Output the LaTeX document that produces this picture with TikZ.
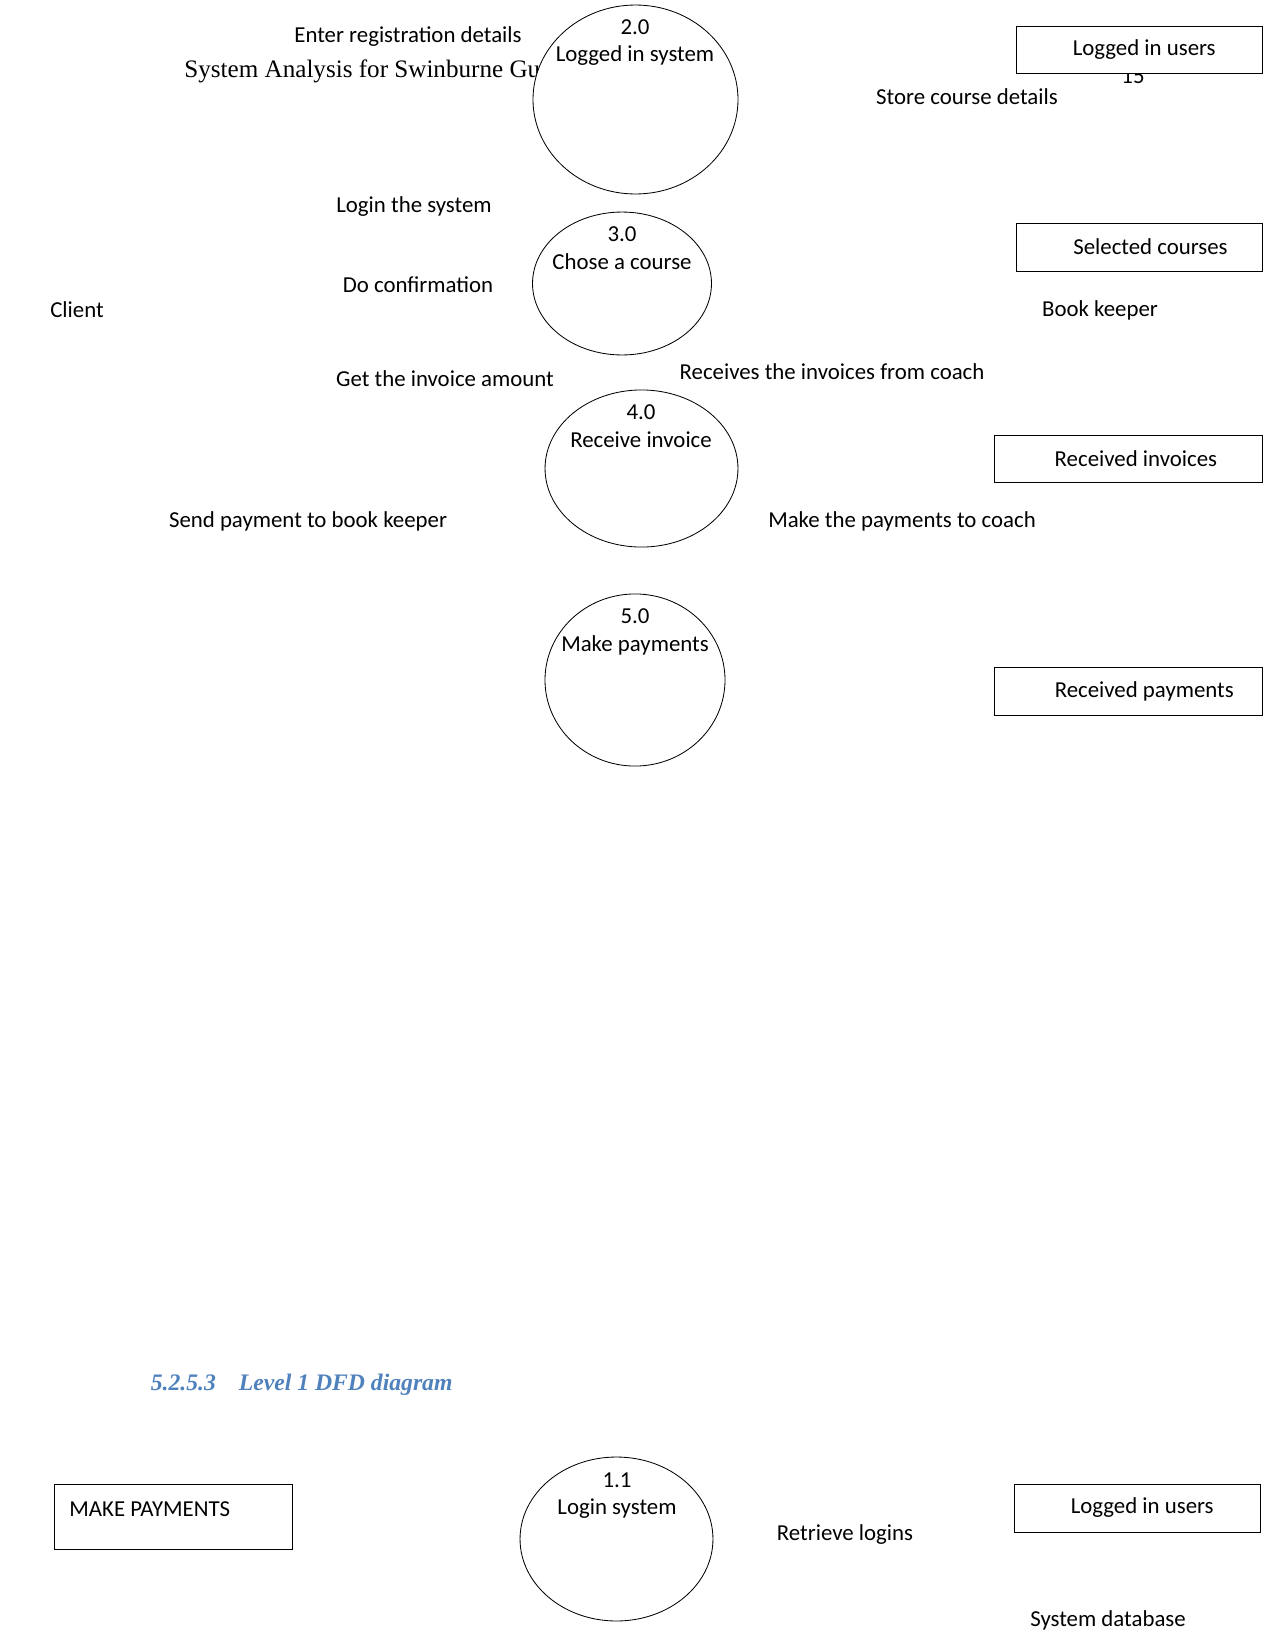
\documentclass[tikz,border=0pt]{standalone}
\usepackage{fontspec}
\setmainfont{Carlito}
\newfontfamily\docserif{Liberation Serif}
\usetikzlibrary{shapes.geometric}
\definecolor{headblue}{HTML}{4F81BD}

\begin{document}
\begin{tikzpicture}[x=0.48bp,y=-0.48bp,
  every node/.style={font=\fontsize{11}{13}\selectfont},
  proc/.style={draw,ellipse,fill=white,inner sep=0pt},
  store/.style={draw,rectangle,fill=white,inner sep=0pt},
  flow/.style={inner sep=0pt}]
  \useasboundingbox (0,0) rectangle (1275,1651);

  % text lying under the shapes
  \node[anchor=west,inner sep=0pt,font=\docserif\fontsize{12.1}{14}\selectfont] (hdr) at (184,71) {System Analysis for Swinburne Gu};
  \node[flow] (pgno) at (1133,76) {15};

  % processes
  \node[proc,minimum width=98.4bp,minimum height=90.7bp] (p2) at (635.5,99.5) {};
  \node[flow] (p2n) at (635,27) {2.0};
  \node[flow] (p2t) at (635,56) {Logged in system};

  \node[proc,minimum width=85.9bp,minimum height=68.6bp] (p3) at (622,283.5) {};
  \node[flow] (p3n) at (622,234) {3.0};
  \node[flow] (p3t) at (622,262) {Chose a course};

  \node[proc,minimum width=92.6bp,minimum height=75.4bp] (p4) at (641.5,468.5) {};
  \node[flow] (p4n) at (641,412) {4.0};
  \node[flow] (p4t) at (641,440) {Receive invoice};

  \node[proc,minimum width=86.4bp,minimum height=82.6bp] (p5) at (635,680) {};
  \node[flow] (p5n) at (635,616) {5.0};
  \node[flow] (p5t) at (635,645) {Make payments};

  % data stores
  \node[store,minimum width=118.1bp,minimum height=22.6bp] (s1) at (1139,49.5) {\hspace{5bp}Logged in users};
  \node[store,minimum width=118.1bp,minimum height=23bp] (s2) at (1139,247) {\hspace{11bp}Selected courses};
  \node[store,minimum width=128.6bp,minimum height=22.6bp] (s3) at (1128,458.5) {\hspace{7.6bp}Received invoices};
  \node[store,minimum width=128.6bp,minimum height=23bp] (s4) at (1128,691) {\hspace{15.6bp}Received payments};

  % flows and entities
  \node[flow] (f1) at (408,37) {Enter registration details};
  \node[flow] (f2) at (967,97) {Store course details};
  \node[flow] (f3) at (414,207) {Login the system};
  \node[flow] (f4) at (418,285) {Do confirmation};
  \node[flow] (client) at (77,310) {Client};
  \node[flow] (keeper) at (1100,310) {Book keeper};
  \node[flow] (f5) at (445,379) {Get the invoice amount};
  \node[flow] (f6) at (832,372) {Receives the invoices from coach};
  \node[flow] (f7) at (308,521) {Send payment to book keeper};
  \node[flow] (f8) at (902,521) {Make the payments to coach};

  % level 1
  \node[anchor=west,inner sep=0pt,text=headblue,font=\docserif\bfseries\itshape\fontsize{11.4}{13}\selectfont] (sec) at (150.5,1385) {5.2.5.3\hspace{11bp}Level 1 DFD diagram};

  \node[store,minimum width=114.2bp,minimum height=31.2bp] (mk) at (173,1516.5) {};
  \node[flow,anchor=west] (mkt) at (69,1509) {MAKE PAYMENTS};

  \node[proc,minimum width=92.6bp,minimum height=78.7bp] (p11) at (616.5,1539) {};
  \node[flow] (p11n) at (617,1480) {1.1};
  \node[flow] (p11t) at (617,1509) {Login system};

  \node[store,minimum width=118.1bp,minimum height=23bp] (s5) at (1137,1508) {\hspace{5bp}Logged in users};
  \node[flow] (f9) at (845,1535) {Retrieve logins};
  \node[flow] (sysdb) at (1108,1620) {System database};
\end{tikzpicture}
\end{document}
